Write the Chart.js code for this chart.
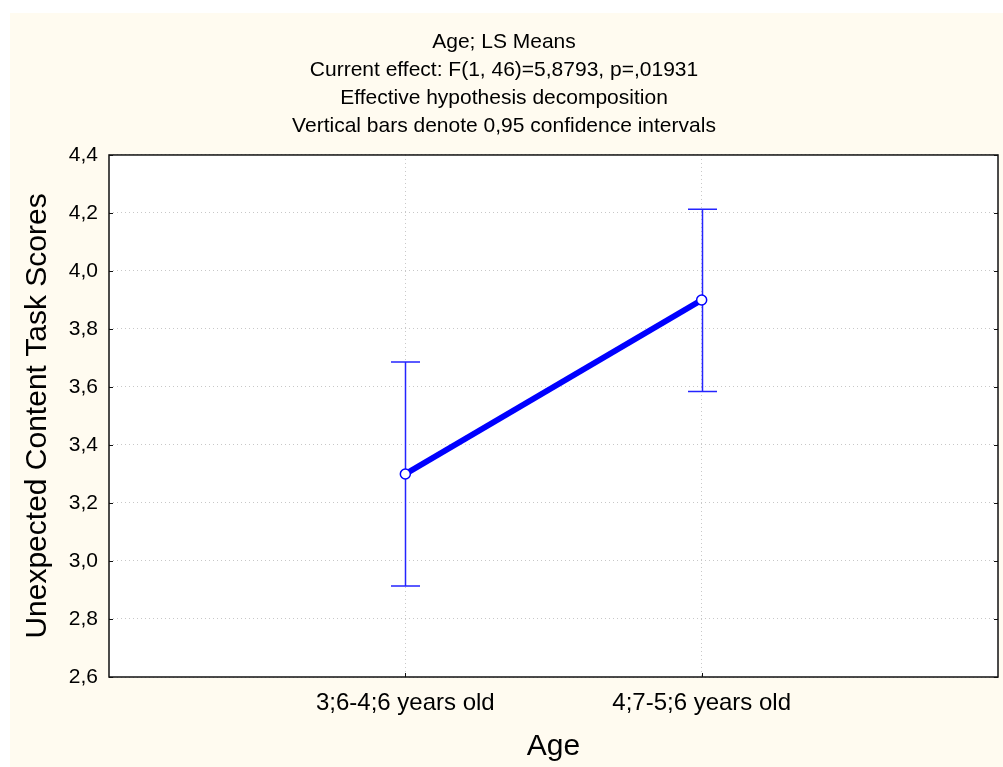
<!DOCTYPE html>
<html>
<head>
<meta charset="utf-8">
<title>Age; LS Means</title>
<script src="https://cdn.jsdelivr.net/npm/chart.js@4.4.1/dist/chart.umd.min.js"></script>
<style>
  html, body { margin: 0; padding: 0; background: #fff; overflow: hidden; }
  #wrap { position: absolute; left: 10px; top: 13px; width: 1007px; height: 754px; background: #fffbf0; }
</style>
</head>
<body>
<div id="wrap"><canvas id="myChart"></canvas></div>
<script>
// values
const categories = ['3;6-4;6 years old', '4;7-5;6 years old'];
const lsMeans = [3.30, 3.90];
const ciLower = [2.914, 3.584];
const ciUpper = [3.686, 4.213];
const xPos = [1, 2];          // where the two groups sit on a 0..3 axis
const yMin = 2.6, yMax = 4.4, yStep = 0.2;

const titleLines = [
    'Age; LS Means',
    'Current effect: F(1, 46)=5,8793, p=,01931',
    'Effective hypothesis decomposition',
    'Vertical bars denote 0,95 confidence intervals'
];

const blue = '#0000ff';
const capHalf = 14.5;

Chart.defaults.font.family = '"Liberation Sans", Arial, sans-serif';
Chart.defaults.color = '#000';

// white plot box, error bars, frame and the little inward ticks
const statPlot = {
    id: 'statPlot',
    beforeDraw(chart) {
        const {ctx, chartArea: a} = chart;
        ctx.save();
        ctx.fillStyle = '#fff';
        ctx.fillRect(a.left, a.top, a.width, a.height);
        ctx.restore();
    },
    beforeDatasetsDraw(chart) {
        const {ctx, scales: {x, y}} = chart;
        ctx.save();
        ctx.strokeStyle = '#2424ff';
        ctx.lineWidth = 1.5;
        for (let i = 0; i < categories.length; i++) {
            const px = Math.round(x.getPixelForValue(xPos[i])) + 0.5;
            const top = y.getPixelForValue(ciUpper[i]);
            const bot = y.getPixelForValue(ciLower[i]);
            ctx.beginPath();
            ctx.moveTo(px, top); ctx.lineTo(px, bot);
            ctx.moveTo(px - capHalf, top); ctx.lineTo(px + capHalf, top);
            ctx.moveTo(px - capHalf, bot); ctx.lineTo(px + capHalf, bot);
            ctx.stroke();
        }
        ctx.restore();
    },
    afterDraw(chart) {
        const {ctx, chartArea: a, scales: {x, y}} = chart;
        ctx.save();
        ctx.strokeStyle = '#111';
        ctx.lineWidth = 1.5;
        ctx.strokeRect(a.left, a.top, a.width, a.height);
        ctx.beginPath();
        y.ticks.forEach(t => {
            const py = Math.round(y.getPixelForValue(t.value)) + 0.5;
            ctx.moveTo(a.left, py); ctx.lineTo(a.left + 4, py);
            ctx.moveTo(a.right, py); ctx.lineTo(a.right - 4, py);
        });
        x.ticks.forEach(t => {
            const px = Math.round(x.getPixelForValue(t.value)) + 0.5;
            ctx.moveTo(px, a.bottom); ctx.lineTo(px, a.bottom - 4);
        });
        ctx.lineWidth = 1;
        ctx.stroke();
        ctx.restore();
    }
};

const ctx = document.getElementById('myChart').getContext('2d');
const myChart = new Chart(ctx, {
    type: 'line',
    data: {
        datasets: [{
            data: xPos.map((v, i) => ({x: v, y: lsMeans[i]})),
            borderColor: blue,
            borderWidth: 6,
            tension: 0,
            pointRadius: 5,
            pointBackgroundColor: '#fff',
            pointBorderColor: blue,
            pointBorderWidth: 1.5
        }]
    },
    options: {
        responsive: true,
        maintainAspectRatio: false,
        animation: false,
        layout: {padding: {left: 0, right: 19, top: 0, bottom: 0}},
        plugins: {
            legend: {display: false},
            tooltip: {enabled: false},
            title: {
                display: true,
                text: titleLines,
                font: {size: 21, weight: 'normal', lineHeight: 1.333},
                padding: {top: 15, bottom: 15}
            }
        },
        scales: {
            x: {
                type: 'linear',
                min: 0,
                max: 3,
                afterBuildTicks: s => { s.ticks = xPos.map(v => ({value: v})); },
                afterFit: s => { s.height = 90; },
                ticks: {
                    font: {size: 24},
                    padding: 12,
                    maxRotation: 0,
                    callback: v => categories[xPos.indexOf(v)]
                },
                grid: {color: '#c8c8c8', lineWidth: 1, drawTicks: false},
                border: {display: false, dash: [1, 3]},
                title: {display: true, text: 'Age', font: {size: 30}, padding: {top: 0, bottom: 2}}
            },
            y: {
                min: yMin,
                max: yMax,
                afterFit: s => { s.width = 99; },
                ticks: {
                    stepSize: yStep,
                    font: {size: 21},
                    padding: 11,
                    callback: v => v.toFixed(1).replace('.', ',')
                },
                grid: {color: '#c8c8c8', lineWidth: 1, drawTicks: false},
                border: {display: false, dash: [1, 3]},
                title: {display: true, text: 'Unexpected Content Task Scores', font: {size: 30}, padding: {top: 9.5, bottom: 0}}
            }
        }
    },
    plugins: [statPlot]
});
</script>
</body>
</html>
